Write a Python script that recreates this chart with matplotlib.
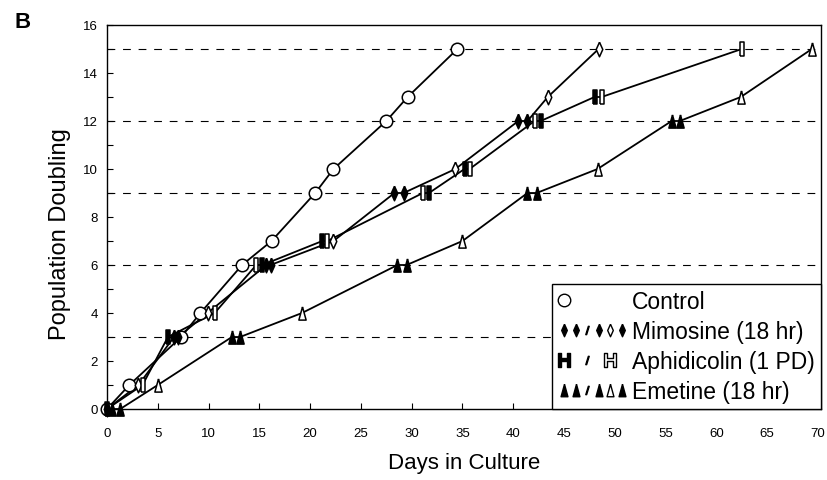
import matplotlib
matplotlib.use("Agg")
import matplotlib.pyplot as plt
from matplotlib.lines import Line2D
from matplotlib.legend_handler import HandlerTuple

# --- data ---
control_x = [0, 2.2, 7.3, 9.2, 13.3, 16.2, 20.5, 22.3, 27.5, 29.6, 34.5]
control_y = [0, 1, 3, 4, 6, 7, 9, 10, 12, 13, 15]
control_filled = [0, 0, 0, 0, 0, 0, 0, 0, 0, 0, 0]

mimosine_x = [0, 3.1, 6.6, 7.0, 9.9, 15.7, 16.1, 22.3, 28.3, 29.2, 34.3, 40.5, 41.4, 43.4, 48.4]
mimosine_y = [0, 1, 3, 3, 4, 6, 6, 7, 9, 9, 10, 12, 12, 13, 15]
mimosine_filled = [1, 0, 1, 1, 0, 1, 1, 0, 1, 1, 0, 1, 1, 0, 0]

aphid_x = [0, 3.5, 6.0, 10.6, 14.7, 15.3, 21.2, 21.7, 31.1, 31.7, 35.2, 35.7, 42.1, 42.7, 48.0, 48.7, 62.5]
aphid_y = [0, 1, 3, 4, 6, 6, 7, 7, 9, 9, 10, 10, 12, 12, 13, 13, 15]
aphid_filled = [1, 0, 1, 0, 0, 1, 1, 0, 0, 1, 1, 0, 0, 1, 1, 0, 0]

emetine_x = [0.5, 1.3, 5.0, 12.3, 13.1, 19.2, 28.6, 29.5, 35.0, 41.4, 42.3, 48.3, 55.6, 56.4, 62.4, 69.4]
emetine_y = [0, 0, 1, 3, 3, 4, 6, 6, 7, 9, 9, 10, 12, 12, 13, 15]
emetine_filled = [1, 1, 0, 1, 1, 0, 1, 1, 0, 1, 1, 0, 1, 1, 0, 0]

x_ticks = list(range(0, 71, 5))
y_ticks = list(range(0, 17, 2))
ref_levels = [3, 6, 9, 12, 15]
labels = ["Control", "Mimosine (18 hr)", "Aphidicolin (1 PD)", "Emetine (18 hr)"]

# custom marker shapes (narrow as in the print)
DIAMOND = [(0, 1), (0.45, 0), (0, -1), (-0.45, 0), (0, 1)]
BAR = [(-0.32, -1), (0.32, -1), (0.32, 1), (-0.32, 1), (-0.32, -1)]
TRI = [(0, 1), (0.55, -1), (-0.55, -1), (0, 1)]

plt.rcParams["font.family"] = ["Liberation Sans", "DejaVu Sans"]

fig = plt.figure(figsize=(8.28, 4.81), dpi=100)
ax = fig.add_axes([107 / 828, 1 - 410 / 481, (821 - 107) / 828, (410 - 26) / 481])

for lvl in ref_levels:
    ax.axhline(lvl, color="black", lw=0.8, ls=(0, (7, 7)), zorder=1)

series = [
    (control_x, control_y, control_filled, "o", 9),
    (mimosine_x, mimosine_y, mimosine_filled, DIAMOND, 10.5),
    (aphid_x, aphid_y, aphid_filled, BAR, 10),
    (emetine_x, emetine_y, emetine_filled, TRI, 9.5),
]

for xs, ys, filled, mk, ms in series:
    ax.plot(xs, ys, color="black", lw=1.3, zorder=2, clip_on=False)
    for x, y, f in zip(xs, ys, filled):
        ax.plot([x], [y], ls="none", marker=mk, ms=ms, mew=1.1,
                mec="black", mfc="black" if f else "white",
                zorder=3, clip_on=False)

ax.set_xlim(0, 70.3)
ax.set_ylim(0, 16)
ax.set_xticks(x_ticks)
ax.set_yticks(y_ticks)
ax.set_yticks(range(0, 17), minor=True)
ax.tick_params(axis="both", which="both", direction="in", length=4, width=0.8,
               labelsize=9.5)
ax.tick_params(axis="x", pad=13)
ax.tick_params(axis="y", pad=6.5)
for sp in ax.spines.values():
    sp.set_linewidth(1.0)

ax.set_xlabel("Days in Culture", fontsize=16)
ax.xaxis.set_label_coords(0.5, -0.112)
ax.set_ylabel("Population Doubling", fontsize=17)
ax.yaxis.set_label_coords(-0.05, 0.458)
fig.text(0.017, 0.975, "B", fontsize=16, fontweight="bold", va="top", ha="left")

# legend with composite glyphs
def mk(marker, filled=True, ms=9):
    return Line2D([], [], ls="none", marker=marker, ms=ms, mew=1.0, mec="black",
                  mfc="black" if filled else "white")

blank = Line2D([], [], ls="none")
slash = Line2D([], [], ls="none", marker="$/$", ms=6, color="black")
handles = [
    (mk("o", False, 9), blank, blank, blank, blank, blank),
    (mk(DIAMOND), mk(DIAMOND), slash, mk(DIAMOND), mk(DIAMOND, False), mk(DIAMOND)),
    (mk("$\\mathbf{H}$", True, 10), blank, slash, blank, mk("$\\mathbf{H}$", False, 10), blank),
    (mk(TRI), mk(TRI), slash, mk(TRI), mk(TRI, False), mk(TRI)),
]
leg = ax.legend(handles, labels, loc="lower right", borderaxespad=0,
                handler_map={tuple: HandlerTuple(ndivide=None, pad=0)},
                handlelength=3.0, handletextpad=0.2, fontsize=16.5,
                labelspacing=0.3, fancybox=False, framealpha=1,
                edgecolor="black", borderpad=0.28)
leg.get_frame().set_linewidth(1.0)
leg.set_zorder(5)

fig.savefig("out.png", dpi=100)
